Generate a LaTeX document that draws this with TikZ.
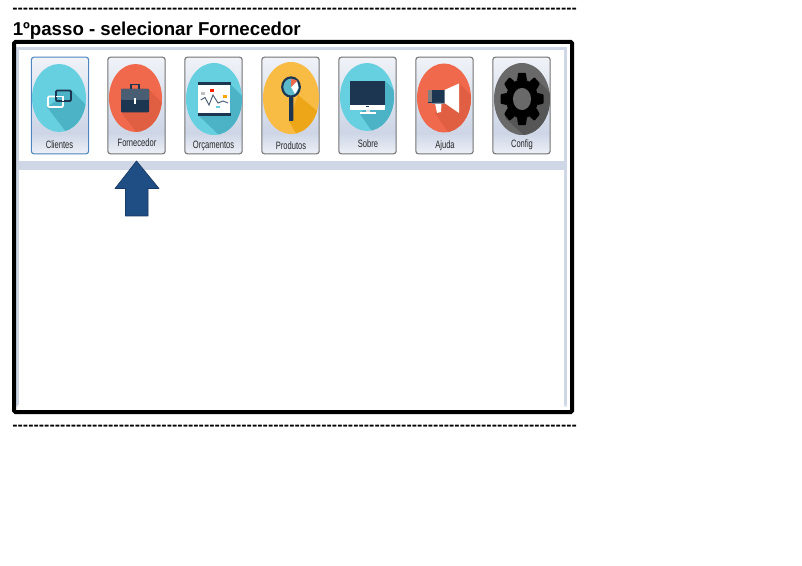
\documentclass[tikz,border=0pt]{standalone}
\usepackage{fontspec}
\setmainfont{Liberation Sans}
\definecolor{btnmid}{HTML}{CDD5E6}
\definecolor{band}{HTML}{CFD7E6}
\definecolor{teal}{HTML}{67D0E0}
\definecolor{tealdk}{HTML}{4CB2C6}
\definecolor{orangeic}{HTML}{F0694D}
\definecolor{orangedk}{HTML}{E05F43}
\definecolor{yellowic}{HTML}{F8BC45}
\definecolor{yellowdk}{HTML}{ECA618}
\definecolor{greyic}{HTML}{696969}
\definecolor{greydk}{HTML}{565656}
\definecolor{navy}{HTML}{1C3550}
\definecolor{arrowblue}{HTML}{1F4E85}
\definecolor{btnblue}{HTML}{4F86BE}
\pgfdeclareverticalshading{btnshade}{100bp}{
  color(0bp)=(white!65!btnmid); color(25bp)=(white!65!btnmid); color(29bp)=(white!40!btnmid);
  color(36bp)=(btnmid); color(55bp)=(white!30!btnmid); color(75bp)=(white!70!btnmid); color(100bp)=(white!70!btnmid)}
\tikzset{
  x=0.75pt,y=-0.75pt,
  btn/.style={draw=#1,line width=0.8pt,rounded corners=2pt,shading=btnshade,minimum width=43pt,minimum height=72.5pt,inner sep=0pt,outer sep=0pt},
  btn/.default={black!55},
  lbl/.style={font=\fontsize{8pt}{9pt}\selectfont,text=black!85,inner sep=0pt},
  dashline/.style={font=\fontsize{12pt}{14pt}\selectfont,inner sep=0pt,anchor=base west},
}
\newcommand{\icon}[7]{% x y rx ry main dark shadow-poly
  \begin{scope}
    \clip (#1,#2) ellipse [x radius=#3*0.75pt,y radius=#4*0.75pt];
    \fill[#5] (#1-40,#2-50) rectangle (#1+40,#2+50);
    \fill[#6] #7;
  \end{scope}}
\newcommand{\dashrow}{\scalebox{1}[1.5]{\foreach \n in {1,...,106}{-\kern0pt}}}
\newcommand{\lblx}[1]{\scalebox{.71}[1]{#1}}
\begin{document}
\begin{tikzpicture}
\useasboundingbox (0,0) rectangle (802,566);
\fill[white] (0,0) rectangle (802,566);
% dashed text lines
\node[dashline] (dashtop) at (12,15.5) {\dashrow};
\node[dashline] (dashbot) at (12,432.5) {\dashrow};
\node[font=\fontsize{14pt}{16pt}\selectfont\bfseries,inner sep=0pt,anchor=base west] (title) at (12.5,35.5) {1ºpasso - selecionar Fornecedor};
% inner window
\fill[band] (16,47) rectangle (567,50.5);
\fill[band] (16,47) rectangle (18.5,405);
\fill[band] (564,47) rectangle (567,405);
\fill[band] (18,161) rectangle (564,170);
\fill[band!60] (16,405) rectangle (18,406.5);
\fill[band!60] (564,405) rectangle (567,406.5);
% frame
\node[draw=black,line width=3pt,rounded corners=1pt,minimum width=418.5pt,minimum height=277.5pt,inner sep=0pt,outer sep=0pt,anchor=north west] (frame) at (14,42) {};
% buttons
\node[btn=btnblue] (b1) at (60,105.5) {};
\node[btn] (b2) at (136.5,105.5) {};
\node[btn] (b3) at (213.5,105.5) {};
\node[btn] (b4) at (290.5,105.5) {};
\node[btn] (b5) at (367.5,105.5) {};
\node[btn] (b6) at (444.5,105.5) {};
\node[btn] (b7) at (521.5,105.5) {};
% Clientes
\icon{59}{98}{27}{34}{teal}{tealdk}{(71,90) -- (105,124) -- (80,150) -- (47,107) -- cycle}
\draw[white,line width=1.3pt,rounded corners=.8pt] (48,96.5) rectangle (63,107);
\draw[navy,line width=1.3pt,fill=tealdk,rounded corners=.8pt] (56,90.5) rectangle (71,101);
\draw[white,line width=1.3pt] (56,96.5) -- (63,96.5) -- (63,101);
% Fornecedor
\icon{135.5}{98}{26.5}{34}{orangeic}{orangedk}{(149,90) -- (180,121) -- (150,150) -- (121,112) -- cycle}
\draw[navy,line width=1pt] (131,89) -- (131,84.5) -- (139,84.5) -- (139,89);
\fill[navy,rounded corners=.8pt] (121,89) rectangle (149,112.5);
\fill[navy!80!white,rounded corners=.8pt] (121,89) rectangle (149,100);
\fill[white] (134.3,98.5) rectangle (136.3,104.5);
% Orçamentos
\icon{214}{99}{28}{36}{teal}{tealdk}{(230,84) -- (265,119) -- (235,150) -- (198,115) -- cycle}
\fill[white] (198,84) rectangle (230,114);
\fill[navy] (197.5,82.5) rectangle (230.5,85);
\fill[navy] (197.5,113.5) rectangle (230.5,116);
\draw[navy!80,line width=.7pt] (200.7,100) -- (205,97.5) -- (209,105) -- (213,95) -- (218,103) -- (223,101) -- (228,103);
\fill[black!25] (201,92) rectangle (205.3,94.7);
\fill[red!75!orange] (209.7,89.3) rectangle (214.3,92.3);
\fill[orange!70!yellow] (223,95) rectangle (227.3,97.7);
\fill[teal] (216,105.7) rectangle (220.3,108.3);
% Produtos
\icon{291}{98}{28}{36}{yellowic}{yellowdk}{(298,95) -- (340,130) -- (305,150) -- (289,121) -- cycle}
\draw[navy,line width=1.6pt,fill=teal!85!navy] (291,87) ellipse [x radius=6.6pt,y radius=7.2pt];
\fill[white] (291,87) -- (297,81) -- (298.5,88) -- (295,94) -- cycle;
\fill[orangeic] (291,87) -- (291,79) -- (296,80) -- (297,81) -- cycle;
\fill[navy,rounded corners=.5pt] (289,97) rectangle (293.3,121);
% Sobre
\icon{367}{97}{27}{34}{teal}{tealdk}{(385,81) -- (420,116) -- (385,150) -- (360,114) -- cycle}
\fill[navy] (350,81) rectangle (385,105);
\fill[white] (350,105) rectangle (385,110);
\fill[white!85!navy] (365.5,110) rectangle (369.5,112);
\fill[white] (360,112) rectangle (376,114.5);
\fill[navy] (366,106.5) rectangle (369,107.5);
% Ajuda
\icon{444}{98}{27}{34.5}{orangeic}{orangedk}{(459,83) -- (495,120) -- (460,150) -- (435,113) -- cycle}
\fill[navy] (428,90) rectangle (444.5,103);
\fill[black!50] (428,90.5) rectangle (431.5,102.5);
\fill[white] (444.5,90) -- (459,83.5) -- (459,113) -- (444.5,103) -- cycle;
\fill[white] (435,103) -- (441.5,103) -- (441,112) -- (437,113) -- cycle;
\fill[navy!55!white] (432,103) -- (444,103) -- (444,104) -- (432,104) -- cycle;
% Config
\icon{522}{99}{28}{36}{greyic}{greydk}{(538,80) -- (570,115) -- (540,150) -- (505,118) -- cycle}
\begin{scope}[shift={(522,99)},yscale=1.22]
  \foreach \a in {0,45,...,315}{
    \fill[black,rotate=\a,rounded corners=.6pt] (-5,-15) -- (-3.8,-21.5) -- (3.8,-21.5) -- (5,-15) -- cycle;}
  \fill[black] (0,0) circle [radius=12pt];
  \fill[greyic] (0,0) circle [radius=6.8pt];
\end{scope}
% labels
\node[lbl] (l1) at (59.5,144.5) {\lblx{Clientes}};
\node[lbl] (l2) at (137,143) {\lblx{Fornecedor}};
\node[lbl] (l3) at (213.5,145.5) {\lblx{Orçamentos}};
\node[lbl] (l4) at (291,146) {\lblx{Produtos}};
\node[lbl] (l5) at (368,144) {\lblx{Sobre}};
\node[lbl] (l6) at (445,146) {\lblx{Ajuda}};
\node[lbl] (l7) at (522,145) {\lblx{Config}};
% arrow
\draw[fill=arrowblue,draw=arrowblue!75!black,line width=.5pt,line join=round] (136.5,161) -- (159,188.5) -- (148,188.5) -- (148,216) -- (125.5,216) -- (125.5,188.5) -- (115,188.5) -- cycle;
\end{tikzpicture}
\end{document}
